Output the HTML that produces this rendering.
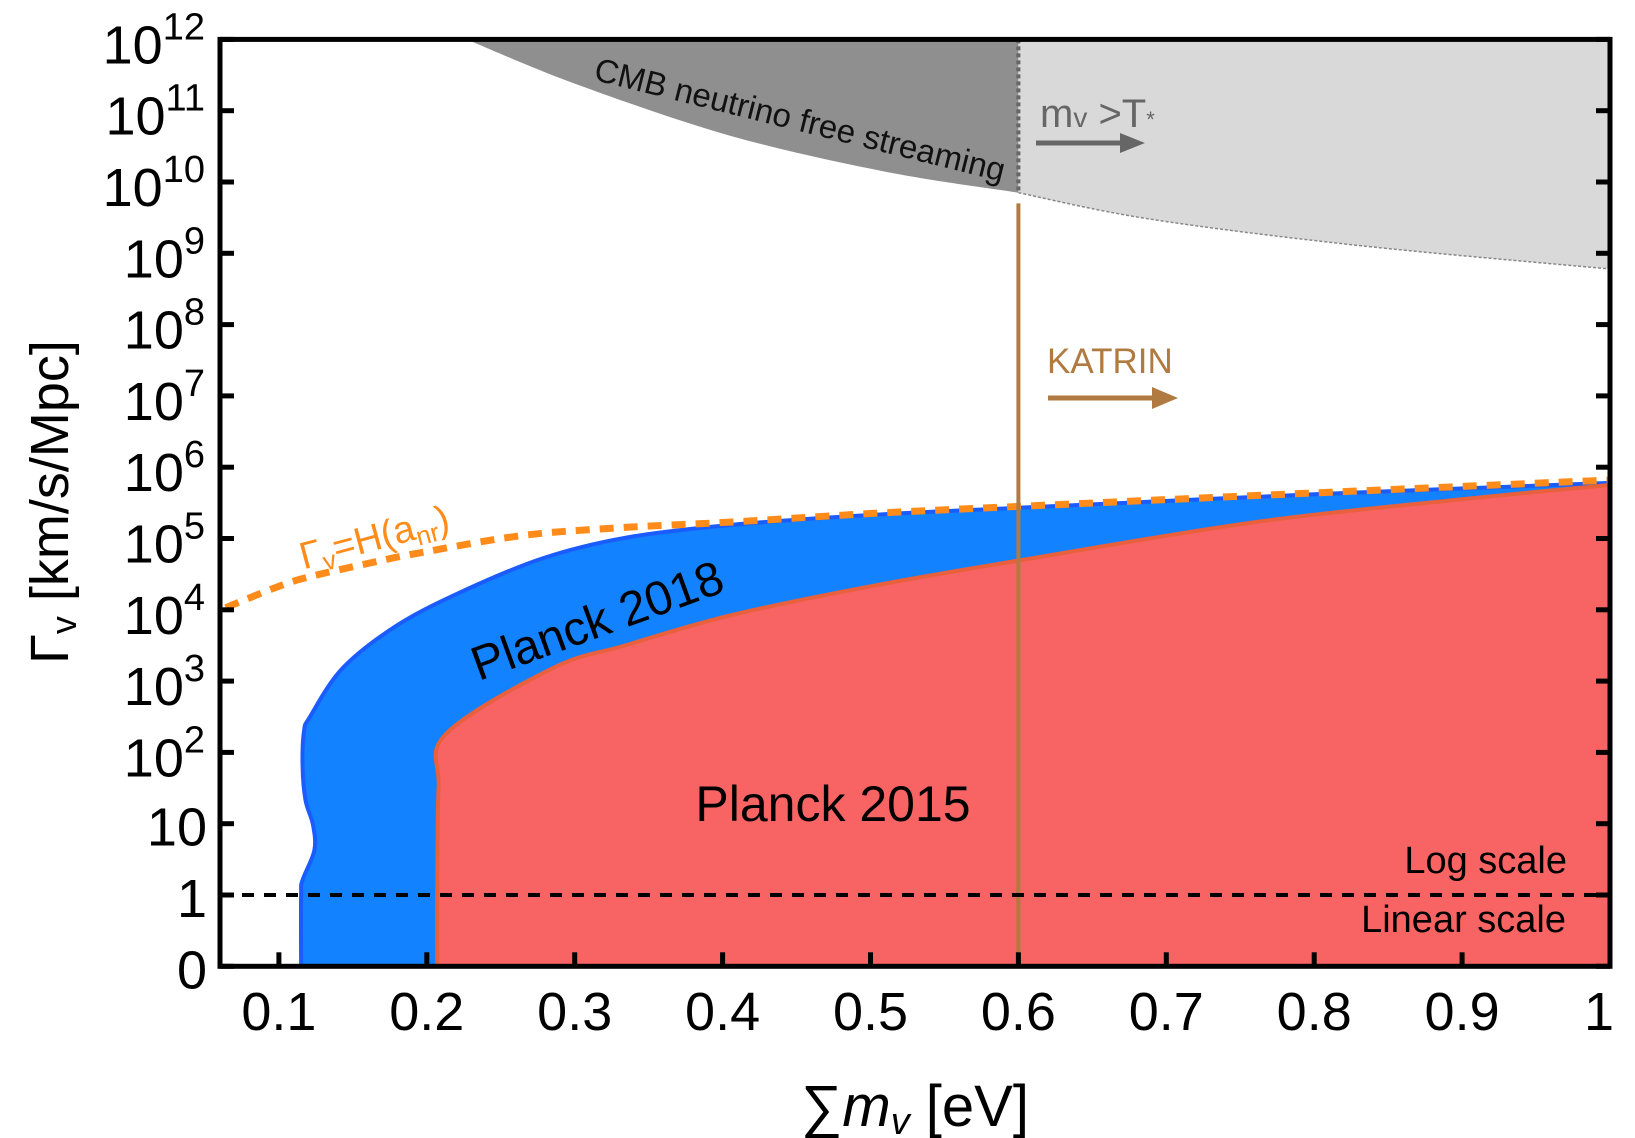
<!DOCTYPE html>
<html><head><meta charset="utf-8"><style>
html,body{margin:0;padding:0;background:#fff;}
svg{display:block;font-family:"Liberation Sans",sans-serif;}
</style></head><body>
<svg id="chart" width="1635" height="1138" viewBox="0 0 1635 1138" xmlns="http://www.w3.org/2000/svg">
<g id="regions"></g>
<g id="axes"></g>
<g id="labels"></g>
</svg>
<script>
// x: sum of neutrino masses [eV]; u: log10(Gamma) for Gamma>=1, Gamma-1 for linear part
const xTicks = [0.1,0.2,0.3,0.4,0.5,0.6,0.7,0.8,0.9,1.0];
const xTickLabels = ["0.1","0.2","0.3","0.4","0.5","0.6","0.7","0.8","0.9","1"];
const yTicks = [-1,0,1,2,3,4,5,6,7,8,9,10,11,12];
const yTickLabels = ["0","1","10","2","3","4","5","6","7","8","9","10","11","12"];
const blueX = [0.115,0.115,0.116,0.124,0.123,0.118,0.116,0.117,0.121,0.143,0.179,0.221,0.278,0.334,0.405,0.5,0.6,0.8,1.0];
const blueU = [-1,0,0.21,0.63,0.99,1.33,1.8,2.3,2.5,3.18,3.77,4.23,4.72,5.01,5.19,5.33,5.43,5.62,5.78];
const redX = [0.207,0.207,0.208,0.213,0.285,0.334,0.405,0.5,0.6,0.76,0.9,1.0];
const redU = [-1,0,1.5,2.26,3.18,3.5,3.92,4.33,4.69,5.23,5.55,5.75];
const orangeX = [0.064,0.1,0.122,0.16,0.193,0.264,0.33,0.405,0.5,0.6,0.8,1.0];
const orangeU = [4.03,4.33,4.47,4.65,4.79,5.04,5.15,5.23,5.35,5.45,5.64,5.82];
const gravX = [0.227,0.3,0.405,0.511,0.6,0.689,0.83,1.0];
const gravU = [12.0,11.38,10.65,10.14,9.85,9.48,9.11,8.78];
const katrinX = 0.6;
const katrinTopU = 9.7;
const tStarX = 0.6;

const X0=220, X1=1610;
function X(v){ return 1610 - (1 - v) * 1479; }
function Y(u){ return 895 - u * 71.3; }
const NS="http://www.w3.org/2000/svg";
function mk(tag, parent, attrs){ const e=document.createElementNS(NS,tag); for(const k in attrs) e.setAttribute(k,attrs[k]); parent.appendChild(e); return e; }
const regions=document.getElementById('regions'), axes=document.getElementById('axes');
const yMin=-1, yMax=12;
function P(xs,us){ return xs.map((x,i)=>[X(x),Y(us[i])]); }
// smooth Catmull-Rom path through pixel points
function smooth(p, start){
  let d = (start?'M':'L')+p[0][0].toFixed(1)+','+p[0][1].toFixed(1);
  for(let i=0;i<p.length-1;i++){
    const p0=p[i-1]||p[i], p1=p[i], p2=p[i+1], p3=p[i+2]||p2;
    const c1=[p1[0]+(p2[0]-p0[0])/6, p1[1]+(p2[1]-p0[1])/6];
    const c2=[p2[0]-(p3[0]-p1[0])/6, p2[1]-(p3[1]-p1[1])/6];
    d+=' C'+c1[0].toFixed(1)+','+c1[1].toFixed(1)+' '+c2[0].toFixed(1)+','+c2[1].toFixed(1)+' '+p2[0].toFixed(1)+','+p2[1].toFixed(1);
  }
  return d;
}

// gray regions
let gDark=[], gLight=[];
gravX.forEach((x,i)=>{ if(x<=tStarX) gDark.push([X(x),Y(gravU[i])]); if(x>=tStarX) gLight.push([X(x),Y(gravU[i])]); });
let e=mk('path',regions,{d:smooth(gDark,true)+' L'+X(tStarX)+','+Y(yMax)+' Z',fill:'#8f8f8f'});


e=mk('path',regions,{d:smooth(gLight,true)+' L'+X(1.0)+','+Y(yMax)+' L'+X(tStarX)+','+Y(yMax)+' Z',fill:'#d9d9d9'});


e=mk('path',regions,{d:smooth(gLight,true),fill:'none',stroke:'#888','stroke-width':1.5,'stroke-dasharray':'3,2'});


e=mk('line',regions,{x1:X(tStarX),x2:X(tStarX),y1:Y(yMax),y2:Y(gravU[4]),stroke:'#666','stroke-width':4,'stroke-dasharray':'4,3'});



// blue region
e=mk('path',regions,{d:smooth(P(blueX,blueU),true)+' L'+X(1.0)+','+Y(yMin)+' Z',fill:'#1282ff',stroke:'#1a5cff','stroke-width':4,'stroke-linejoin':'round'});


// red region
e=mk('path',regions,{d:smooth(P(redX,redU),true)+' L'+X(1.0)+','+Y(yMin)+' Z',fill:'#f86464',stroke:'#e8603c','stroke-width':4,'stroke-linejoin':'round'});


// orange dashed
e=mk('path',regions,{d:smooth(P(orangeX,orangeU),true),fill:'none',stroke:'#ff8c1a','stroke-width':7,'stroke-dasharray':'14,10'});


// KATRIN line
e=mk('line',regions,{x1:X(katrinX),x2:X(katrinX),y1:Y(katrinTopU),y2:Y(yMin),stroke:'#b07a40','stroke-width':4});


// log/linear divider
e=mk('line',regions,{x1:X0,x2:X1,y1:Y(0),y2:Y(0),stroke:'#000','stroke-width':4,'stroke-dasharray':'12,10'});



// axes box
e=mk('rect',axes,{x:X0,y:Y(yMax),width:X1-X0,height:Y(yMin)-Y(yMax),fill:'none',stroke:'#000','stroke-width':5});


xTicks.forEach((t,i)=>{
  let l=mk('line',axes,{x1:X(t),x2:X(t),y1:Y(yMin),y2:Y(yMin)-14,stroke:'#000','stroke-width':5});
  
  
  let tx=mk('text',axes,{x:i===xTicks.length-1?X(t)+4:X(t),y:1030,'font-size':54,'text-anchor':i===xTicks.length-1?'end':'middle'});
  tx.textContent=xTickLabels[i];
  
  
});
yTicks.forEach((t,i)=>{
  let l=mk('line',axes,{x1:X0,x2:X0+14,y1:Y(t),y2:Y(t),stroke:'#000','stroke-width':5});
  
  
  let r=mk('line',axes,{x1:X1,x2:X1-14,y1:Y(t),y2:Y(t),stroke:'#000','stroke-width':5});
  
  
  let tx;
  if(t<=1){
    tx=mk('text',axes,{x:207,y:Y(t)+22,'font-size':54,'text-anchor':'end'});
    tx.textContent=yTickLabels[i];
  } else {
    tx=mk('text',axes,{x:205,y:Y(t)+24,'font-size':54,'text-anchor':'end'});
    const b=mk('tspan',tx,{}); b.textContent='10';
    const s=mk('tspan',tx,{'font-size':38,dy:-24}); s.textContent=yTickLabels[i];
  }
  
  
});
</script>
<svg style="position:absolute;left:0;top:0" width="1635" height="1138" viewBox="0 0 1635 1138" xmlns="http://www.w3.org/2000/svg" font-family="Liberation Sans, sans-serif">
<text x="800" y="131" font-size="33" text-anchor="middle" transform="rotate(14 800 120)" fill="#111">CMB neutrino free streaming</text>
<text x="1040" y="127" font-size="40" fill="#666">m<tspan font-size="28">v</tspan> &gt;T<tspan font-size="22">*</tspan></text>
<g><line x1="1036" y1="143" x2="1126" y2="143" stroke="#666" stroke-width="5"/><polygon points="1120,133 1145,143 1120,153" fill="#666"/></g>
<text x="1047" y="373" font-size="35" fill="#b07a40">KATRIN</text>
<g><line x1="1048" y1="398" x2="1160" y2="398" stroke="#b07a40" stroke-width="5"/><polygon points="1152,387 1178,398 1152,409" fill="#b07a40"/></g>
<text x="375" y="550" font-size="38" text-anchor="middle" fill="#ff8c1a" transform="rotate(-15 375 540)">Γ<tspan font-size="26" dy="7">v</tspan><tspan dy="-7">=H(a</tspan><tspan font-size="26" dy="7">nr</tspan><tspan dy="-7">)</tspan></text>
<text x="597" y="637" font-size="48" text-anchor="middle" transform="rotate(-20 597 620)">Planck 2018</text>
<text x="833" y="821" font-size="50" text-anchor="middle">Planck 2015</text>
<text x="1567" y="873" font-size="38" text-anchor="end">Log scale</text>
<text x="1566" y="932" font-size="38" text-anchor="end">Linear scale</text>
<text x="915" y="1126" font-size="58" text-anchor="middle">∑<tspan font-style="italic">m</tspan><tspan font-style="italic" font-size="38" dy="8">v</tspan><tspan dy="-8"> [eV]</tspan></text>
<text x="0" y="0" font-size="54" text-anchor="middle" transform="translate(68 502) rotate(-90)">Γ<tspan font-size="36" dy="8">v</tspan><tspan dy="-8"> [km/s/Mpc]</tspan></text>
</svg>
</body></html>
